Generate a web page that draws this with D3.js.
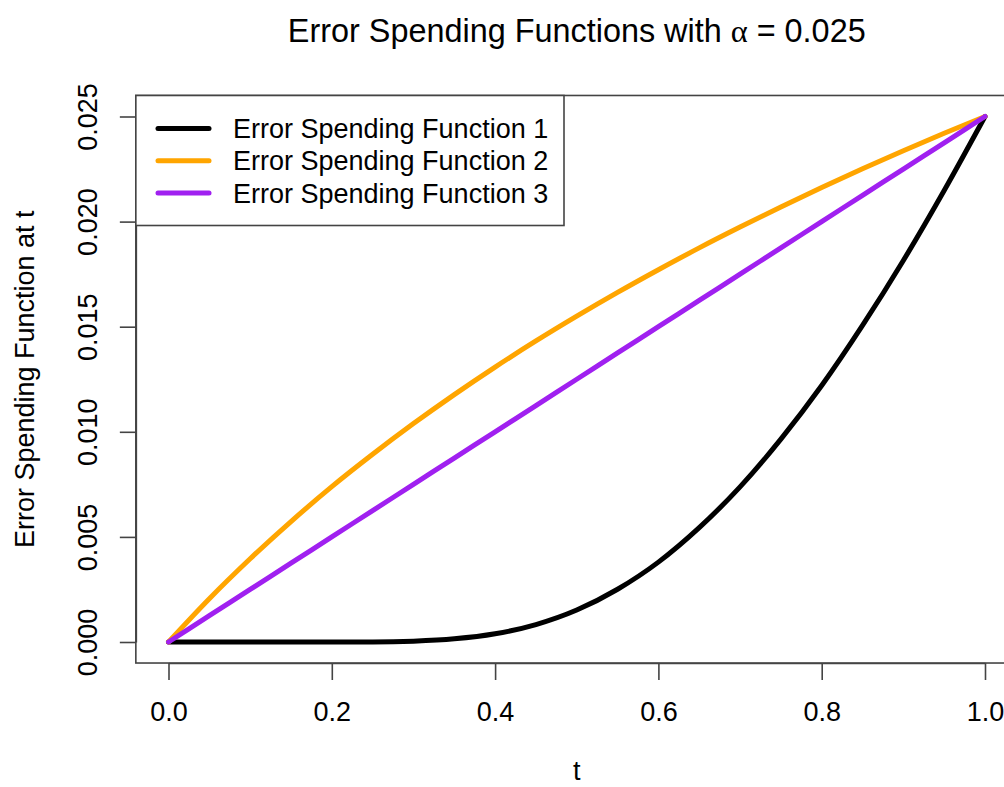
<!DOCTYPE html>
<html>
<head>
<meta charset="utf-8">
<script src="https://cdn.jsdelivr.net/npm/d3@7"></script>
<style>
  html, body { margin: 0; padding: 0; background: #fff; }
  svg { display: block; font-family: "Liberation Sans", Arial, sans-serif; }
</style>
</head>
<body>
<svg id="chart" width="1004" height="787"></svg>
<script>
// Information fraction grid
const tValues = [0, 0.05, 0.10, 0.15, 0.20, 0.25, 0.30, 0.35, 0.40, 0.45, 0.50,
                 0.55, 0.60, 0.65, 0.70, 0.75, 0.80, 0.85, 0.90, 0.95, 1.00];

// Cumulative alpha spent at each t
const spend1 = [0, 0, 0, 0, 0, 0.000002, 0.00004, 0.00015, 0.00039, 0.00083, 0.00152,
                0.00251, 0.00380, 0.00544, 0.00738, 0.00965, 0.01220, 0.01506, 0.01815, 0.02148, 0.02500];
const spend2 = [0, 0.00206, 0.00396, 0.00573, 0.00739, 0.00893, 0.01039, 0.01177, 0.01308, 0.01432, 0.01550,
                0.01663, 0.01771, 0.01875, 0.01974, 0.02070, 0.02162, 0.02251, 0.02337, 0.02420, 0.02500];
const spend3 = [0, 0.00125, 0.00250, 0.00375, 0.00500, 0.00625, 0.00750, 0.00875, 0.01000, 0.01125, 0.01250,
                0.01375, 0.01500, 0.01625, 0.01750, 0.01875, 0.02000, 0.02125, 0.02250, 0.02375, 0.02500];

const seriesNames = ["Error Spending Function 1", "Error Spending Function 2", "Error Spending Function 3"];
const seriesColors = ["#000000", "#FFA500", "#A020F0"];

const xTicks = [0, 0.2, 0.4, 0.6, 0.8, 1.0];
const yTicks = [0, 0.005, 0.010, 0.015, 0.020, 0.025];

const svg = d3.select("#chart");
const fontSize = 27;
const axisColor = "#444";

const x = d3.scaleLinear().domain([0, 1]).range([168.5, 985]);
const y = d3.scaleLinear().domain([0, 0.025]).range([642, 116.5]);

// Plot frame (4% padding on each side of the data range)
const x0 = x(-0.04), x1 = x(1.04), yTop = y(0.026), yBot = y(-0.001);
svg.append("rect")
  .attr("x", x0).attr("y", yTop)
  .attr("width", x1 - x0).attr("height", yBot - yTop)
  .attr("fill", "none").attr("stroke", axisColor).attr("stroke-width", 1.6);

// X axis
const xAxis = d3.axisBottom(x).tickValues(xTicks).tickFormat(d3.format(".1f"))
  .tickSizeInner(17).tickSizeOuter(0).tickPadding(22);
const gx = svg.append("g").attr("transform", `translate(0,${yBot})`).call(xAxis);
gx.select(".domain").attr("stroke", axisColor).attr("stroke-width", 1.6);
gx.selectAll(".tick line").attr("stroke", axisColor).attr("stroke-width", 1.6);
gx.selectAll(".tick text").attr("font-size", fontSize).attr("font-family", "Liberation Sans, Arial, sans-serif").attr("fill", "#000");

// Y axis, labels parallel to the axis
const yAxis = d3.axisLeft(y).tickValues(yTicks).tickFormat(d3.format(".3f"))
  .tickSizeInner(16).tickSizeOuter(0);
const gy = svg.append("g").attr("transform", `translate(${x0},0)`).call(yAxis);
gy.select(".domain").attr("stroke", axisColor).attr("stroke-width", 1.6);
gy.selectAll(".tick line").attr("stroke", axisColor).attr("stroke-width", 1.6);
gy.selectAll(".tick text")
  .attr("font-size", fontSize).attr("font-family", "Liberation Sans, Arial, sans-serif").attr("fill", "#000")
  .attr("x", null).attr("dy", null)
  .attr("text-anchor", "middle")
  .attr("transform", `translate(${97 - x0},0) rotate(-90)`);

// Axis titles
svg.append("text")
  .attr("x", (x0 + x1) / 2).attr("y", 780)
  .attr("text-anchor", "middle").attr("font-size", fontSize)
  .text("t");
svg.append("text")
  .attr("transform", `translate(34,${(yTop + yBot) / 2}) rotate(-90)`)
  .attr("text-anchor", "middle").attr("font-size", fontSize)
  .text("Error Spending Function at t");

// Title
const title = svg.append("text")
  .attr("x", (x0 + x1) / 2).attr("y", 42)
  .attr("text-anchor", "middle").attr("font-size", 32.4);
title.append("tspan").text("Error Spending Functions with ");
title.append("tspan").attr("font-family", "Liberation Serif, serif").text("α");
title.append("tspan").text(" = 0.025");

// Curves
const line = d3.line()
  .x((d, i) => x(tValues[i]))
  .y(d => y(d))
  .curve(d3.curveMonotoneX);

[spend1, spend2, spend3].forEach((vals, k) => {
  svg.append("path")
    .datum(vals)
    .attr("d", line)
    .attr("fill", "none")
    .attr("stroke", seriesColors[k])
    .attr("stroke-width", 5)
    .attr("stroke-linecap", "round")
    .attr("stroke-linejoin", "round");
});

// Legend
const leg = svg.append("g");
leg.append("rect")
  .attr("x", x0).attr("y", yTop)
  .attr("width", 564 - x0).attr("height", 225.5 - yTop)
  .attr("fill", "#fff").attr("stroke", axisColor).attr("stroke-width", 1.6);
seriesNames.forEach((name, k) => {
  const cy = 128.5 + k * 32.3;
  leg.append("line")
    .attr("x1", 158).attr("x2", 209).attr("y1", cy).attr("y2", cy)
    .attr("stroke", seriesColors[k]).attr("stroke-width", 5).attr("stroke-linecap", "round");
  leg.append("text")
    .attr("x", 233).attr("y", cy + 9.5)
    .attr("font-size", fontSize)
    .text(name);
});
</script>
</body>
</html>
